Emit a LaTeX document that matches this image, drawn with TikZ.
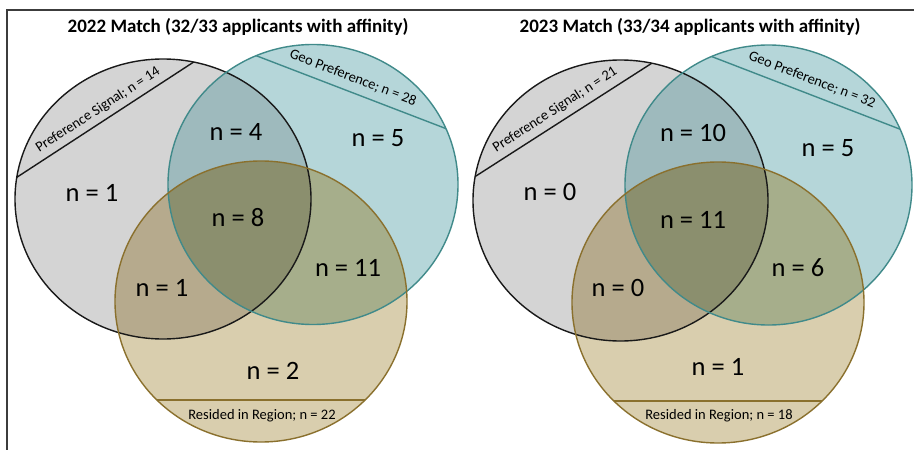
\documentclass[tikz,border=0pt]{standalone}
\usepackage{fontspec}
\setmainfont{Carlito}
\definecolor{greyC}{RGB}{212,212,212}
\definecolor{tealC}{RGB}{181,214,217}
\definecolor{tanC}{RGB}{217,206,174}
\definecolor{gtC}{RGB}{158,186,189}
\definecolor{gnC}{RGB}{182,170,141}
\definecolor{tnC}{RGB}{166,174,139}
\definecolor{allC}{RGB}{139,143,110}
\definecolor{greyS}{RGB}{25,25,25}
\definecolor{tealS}{RGB}{64,138,138}
\definecolor{tanS}{RGB}{138,112,45}
\definecolor{frameS}{RGB}{60,60,60}
\begin{document}
\begin{tikzpicture}[x=1pt,y=-1pt,
  frame/.style={draw=frameS,line width=1.6pt},
  outl/.style={line width=1.4pt},
  title/.style={font=\fontsize{19}{19}\bfseries\selectfont,inner sep=0pt},
  count/.style={font=\fontsize{26.5}{26.5}\selectfont,inner sep=0pt},
  setlabel/.style={font=\fontsize{14.5}{14.5}\selectfont,inner sep=0pt}]
\useasboundingbox (0,0) rectangle (914,450);
\draw[frame] (7,451) -- (7,10) -- (915,10);
% ---------- generic panel macro ----------
\newcommand\vennpanel[6]{%
 % #1 grey centre, #2 grey radii; #3 teal centre, #4 teal radii; #5 tan centre, #6 tan radii
 \def\gpath{#1 ellipse [#2]}\def\tpath{#3 ellipse [#4]}\def\npath{#5 ellipse [#6]}%
 \fill[greyC] \gpath; \fill[tealC] \tpath; \fill[tanC] \npath;
 \begin{scope}\clip \gpath; \fill[gtC] \tpath; \end{scope}
 \begin{scope}\clip \gpath; \fill[gnC] \npath; \end{scope}
 \begin{scope}\clip \tpath; \fill[tnC] \npath; \end{scope}
 \begin{scope}\clip \gpath; \clip \tpath; \fill[allC] \npath; \end{scope}
}
% ---------- left panel ----------
\vennpanel{(163,199)}{x radius=148pt,y radius=140pt}{(313,184.5)}{x radius=145pt,y radius=140pt}{(261,301.5)}{x radius=146pt,y radius=140.5pt}
\begin{scope}\clip (163,199) ellipse [x radius=148pt,y radius=140pt];
 \draw[greyS,outl] (-18,200) -- (229,39);\end{scope}
\begin{scope}\clip (313,184.5) ellipse [x radius=145pt,y radius=140pt];
 \draw[tealS,outl] (219,41.4) -- (485,143.6);\end{scope}
\begin{scope}\clip (261,301.5) ellipse [x radius=146pt,y radius=140.5pt];
 \draw[tanS,outl] (100,400) -- (420,400);\end{scope}
\draw[greyS,outl] (163,199) ellipse [x radius=148pt,y radius=140pt];
\draw[tealS,outl] (313,184.5) ellipse [x radius=145pt,y radius=140pt];
\draw[tanS,outl] (261,301.5) ellipse [x radius=146pt,y radius=140.5pt];
\node[title] (t22) at (238,27) {2022 Match (32/33 applicants with affinity)};
\node[setlabel,rotate=33] (ps22) at (98,110) {Preference Signal; n = 14};
\node[setlabel,rotate=-21] (gp22) at (353,78) {Geo Preference; n = 28};
\node[setlabel] (rr22) at (262,416) {Resided in Region; n = 22};
\node[count] (a22) at (92,193) {n = 1};
\node[count] (b22) at (236,132) {n = 4};
\node[count] (c22) at (378,138) {n = 5};
\node[count] (d22) at (238,218) {n = 8};
\node[count] (e22) at (162,288) {n = 1};
\node[count] (f22) at (348,268) {n = 11};
\node[count] (g22) at (273,371) {n = 2};
% ---------- right panel ----------
\vennpanel{(620.5,200.5)}{x radius=147.5pt,y radius=140.5pt}{(768.5,185)}{x radius=143.5pt,y radius=140pt}{(718,302.5)}{x radius=146pt,y radius=140.5pt}
\begin{scope}\clip (620.5,200.5) ellipse [x radius=147.5pt,y radius=140.5pt];
 \draw[greyS,outl] (437,201) -- (688,40);\end{scope}
\begin{scope}\clip (768.5,185) ellipse [x radius=143.5pt,y radius=140pt];
 \draw[tealS,outl] (675,42.4) -- (940,144.6);\end{scope}
\begin{scope}\clip (718,302.5) ellipse [x radius=146pt,y radius=140.5pt];
 \draw[tanS,outl] (560,401) -- (880,401);\end{scope}
\draw[greyS,outl] (620.5,200.5) ellipse [x radius=147.5pt,y radius=140.5pt];
\draw[tealS,outl] (768.5,185) ellipse [x radius=143.5pt,y radius=140pt];
\draw[tanS,outl] (718,302.5) ellipse [x radius=146pt,y radius=140.5pt];
\node[title] (t23) at (690,27) {2023 Match (33/34 applicants with affinity)};
\node[setlabel,rotate=33] (ps23) at (555,110) {Preference Signal; n = 21};
\node[setlabel,rotate=-21] (gp23) at (812,80) {Geo Preference; n = 32};
\node[setlabel] (rr23) at (719,416) {Resided in Region; n = 18};
\node[count] (a23) at (550,192) {n = 0};
\node[count] (b23) at (693,133) {n = 10};
\node[count] (c23) at (828,148) {n = 5};
\node[count] (d23) at (693,220) {n = 11};
\node[count] (e23) at (618,288) {n = 0};
\node[count] (f23) at (798,268) {n = 6};
\node[count] (g23) at (718,367) {n = 1};
\end{tikzpicture}
\end{document}
